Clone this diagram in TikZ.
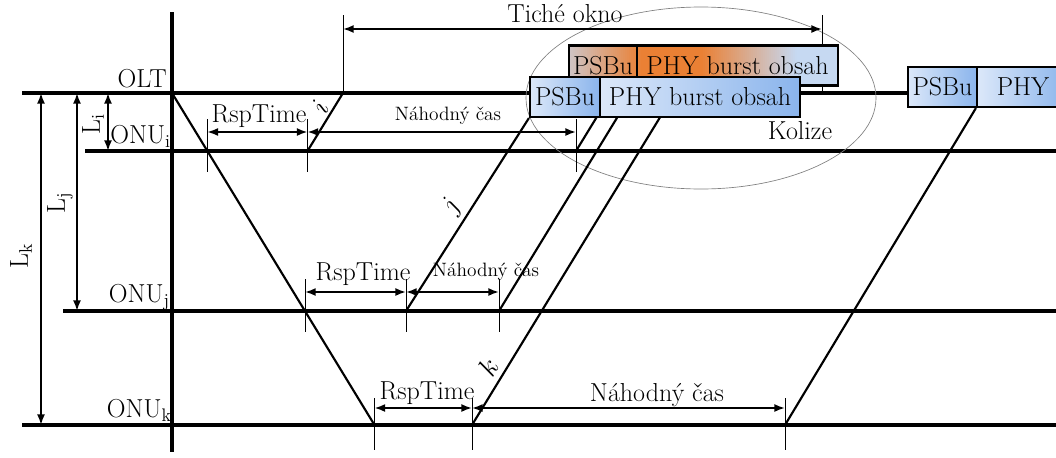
\documentclass[tikz,border=0pt]{standalone}
\usepackage{fontspec}
\usetikzlibrary{arrows.meta,backgrounds}
\definecolor{boxlight}{RGB}{220,232,249}
\definecolor{boxdark}{RGB}{138,180,236}
\definecolor{boxpale}{RGB}{198,217,242}
\definecolor{hotorange}{RGB}{234,128,52}
\begin{document}
\begin{tikzpicture}[x=0.75pt,y=-0.75pt,
  axis/.style={line width=2.3pt},
  sig/.style={line width=1.6pt},
  tickline/.style={line width=0.6pt},
  dim/.style={line width=1.3pt,{Latex[length=8pt,width=6pt]}-{Latex[length=8pt,width=6pt]}},
  biglbl/.style={font=\fontsize{19.5}{22}\selectfont,inner sep=0pt},
  smalllbl/.style={font=\fontsize{14.5}{17}\selectfont,inner sep=0pt},
  boxbase/.style={draw,line width=1.6pt,minimum height=30pt,inner sep=0pt,
    font=\fontsize{19.5}{22}\selectfont},
  burst/.style={boxbase,left color=boxlight,right color=boxdark}
]
\useasboundingbox (0,0) rectangle (1056,457);
\clip (0,0) rectangle (1056,457);

% colliding bursts at the OLT: orange hot spot blended into pale blue
\begin{scope}
  \clip (569,45) rectangle (838,86);
  \fill[boxpale] (569,45) rectangle (838,86);
  \foreach \x in {569,571,...,837} {
    \pgfmathsetmacro\dd{abs(\x+1-672)}
    \pgfmathsetmacro\pp{max(0,min(100,100*(1-(\dd-30)/95)))}
    \fill[hotorange!\pp!boxpale] (\x,45) rectangle (\x+2.5,86);
  }
\end{scope}
\node[boxbase,minimum width=51pt] (upsbu) at (603,65.5) {PSBu};
\node[boxbase,minimum width=150.75pt] (uphy) at (737.5,65.5) {PHY burst obsah};
\node[burst,minimum width=52.5pt] (lpsbu) at (565,97) {PSBu};
\node[burst,minimum width=150pt] (lphy) at (700,97) {PHY burst obsah};
% later burst
\node[burst,minimum width=51.75pt] (rpsbu) at (942.5,87) {PSBu};
\node[burst,minimum width=69pt] (rphy) at (1023,87) {PHY};

\begin{scope}[on background layer]
  % time axes
  \coordinate (olt0) at (172,93);
  \draw[axis] (22,93) -- (1060,93);
  \draw[axis] (85,151) -- (1060,151);
  \draw[axis] (63,311) -- (1060,311);
  \draw[axis] (22,425) -- (1060,425);
  \draw[axis] (172,12) -- (172,452);

  % collision region
  \draw[gray,line width=0.5pt] (701,98) ellipse [x radius=175,y radius=91];

  % event points
  \coordinate (di) at (207.4,151);
  \coordinate (dj) at (305,311);
  \coordinate (dk) at (374.5,425);
  \coordinate (ui) at (307.5,151);
  \coordinate (ti) at (343,93);
  \coordinate (ui2) at (576,151);
  \coordinate (ui2top) at (596.8,117);
  \coordinate (uj) at (406,311);
  \coordinate (uj2) at (499,311);
  \coordinate (uj2top) at (617.5,117);
  \coordinate (uk) at (472,425);
  \coordinate (uktop) at (660.2,117);
  \coordinate (uk2) at (785,425);
  \coordinate (tq) at (822,93);

  % downstream and upstream transmissions
  \draw[sig] (olt0) -- (dk);
  \draw[sig] (ui) -- (ti);
  \draw[sig] (ui2) -- (ui2top);
  \draw[sig] (uj) -- (lpsbu.south west);
  \draw[sig] (uj2) -- (uj2top);
  \draw[sig] (uk) -- (uktop);
  \draw[sig] (uk2) -- (rphy.south west);

  % guide ticks
  \draw[tickline] (207.4,119) -- (207.4,172);
  \draw[tickline] (307.5,119) -- (307.5,172);
  \draw[tickline] (576,119) -- (576,172);
  \draw[tickline] (305,279) -- (305,332);
  \draw[tickline] (406,279) -- (406,332);
  \draw[tickline] (499,279) -- (499,332);
  \draw[tickline] (374.5,398) -- (374.5,450);
  \draw[tickline] (472,398) -- (472,450);
  \draw[tickline] (785,398) -- (785,450);
  \draw[tickline] (ti) -- (343,15);
  \draw[tickline] (tq) -- (822,15);
\end{scope}

% dimension arrows
\draw[dim] (207.4,132) -- (307.5,132);
\draw[dim] (307.5,132) -- (576,132);
\draw[dim] (305,292) -- (406,292);
\draw[dim] (406,292) -- (499,292);
\draw[dim] (374.5,408) -- (472,408);
\draw[dim] (472,408) -- (785,408);
\draw[dim] (343,29) -- (822,29);
\draw[dim] (41,93) -- (41,425);
\draw[dim] (77,93) -- (77,311);
\draw[dim] (108,93) -- (108,151);

% labels
\node[biglbl] (lrsi) at (259,116) {RspTime};
\node[smalllbl] (lnci) at (448,116) {Náhodný čas};
\node[biglbl] (lrsj) at (363,274) {RspTime};
\node[smalllbl] (lncj) at (486,272) {Náhodný čas};
\node[biglbl] (lrsk) at (427,393) {RspTime};
\node[biglbl] (lnck) at (657,395) {Náhodný čas};
\node[biglbl] (ltich) at (565,14) {Tiché okno};
\node[biglbl] (lkol) at (800,131) {Kolize};

\node[biglbl,anchor=base east] (lolt) at (167,87) {OLT};
\node[biglbl,anchor=base east] (lonui) at (171,143) {ONU\textsubscript{i}};
\node[biglbl,anchor=base east] (lonuj) at (170,302) {ONU\textsubscript{j}};
\node[biglbl,anchor=base east] (lonuk) at (172,417) {ONU\textsubscript{k}};

\node[biglbl,rotate=90] (llk) at (21,256) {L\textsubscript{k}};
\node[biglbl,rotate=90] (llj) at (60,203) {L\textsubscript{j}};
\node[biglbl,rotate=90] (lli) at (93,124) {L\textsubscript{i}};

\node[biglbl,rotate=58.5] (li) at (320,107) {$i$};
\node[biglbl,rotate=58.5] (lj) at (452,207) {$j$};
\node[biglbl,rotate=58.5] (lk) at (488,367) {$k$};
\end{tikzpicture}
\end{document}
